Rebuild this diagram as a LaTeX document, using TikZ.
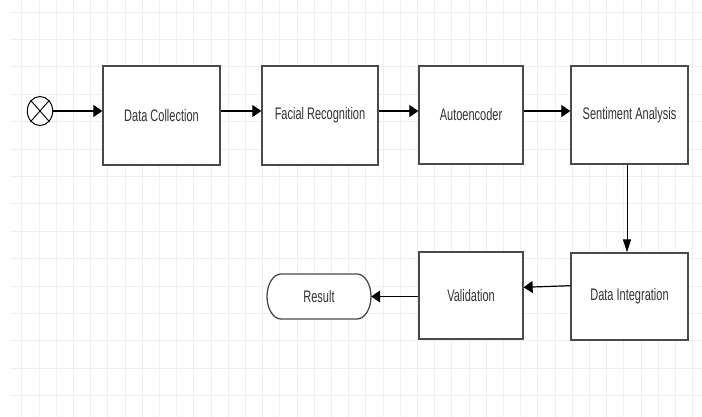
\documentclass[tikz,border=0pt]{standalone}
\usepackage{fontspec}
\setmainfont{Liberation Sans}
\usetikzlibrary{arrows.meta,shapes.geometric}
\newcommand{\vstretch}[1]{\scalebox{1}[1.52]{#1}}
\definecolor{gridc}{HTML}{EFEFEF}
\definecolor{boxc}{HTML}{4A4A4A}
\definecolor{txtc}{HTML}{333333}
\tikzset{
  stepbox/.style={draw=boxc, line width=1.3pt, fill=white, rectangle, inner sep=0pt,
    text=txtc, font=\fontsize{11}{13}\selectfont},
  harr/.style={draw=black, line width=1.2pt, -{Triangle[length=9pt,width=12pt]}},
  varr/.style={draw=black, line width=1pt, -{Triangle[length=13pt,width=8pt]}},
}
\begin{document}
\begin{tikzpicture}[x=1pt,y=-1pt]
\useasboundingbox (0,0) rectangle (702,417);
\fill[white] (0,0) rectangle (702,417);
% grid
\foreach \k in {0,...,39} {
  \draw[gridc, line width=0.8pt] ({21.7+17.2*\k},0) -- ({21.7+17.2*\k},417);
}
\foreach \k in {0,...,14} {
  \draw[gridc, line width=0.8pt] (10,{12+27.4*\k}) -- (702,{12+27.4*\k});
}
% start symbol
\node[draw=black, line width=1pt, ellipse, minimum width=25.4pt, minimum height=29pt, inner sep=0pt, fill=white] (start) at (40,111) {};
\draw[black, line width=0.9pt] (start.north west) -- (start.south east);
\draw[black, line width=0.9pt] (start.north east) -- (start.south west);
% boxes
\node[stepbox, minimum width=117pt, minimum height=99pt] (dc) at (161.5,115.5) {\vstretch{Data Collection}};
\node[stepbox, minimum width=116pt, minimum height=99pt] (fr) at (320,115.5) {\vstretch{Facial Recognition}};
\node[stepbox, minimum width=104pt, minimum height=98pt] (ae) at (471,115) {\vstretch{Autoencoder}};
\node[stepbox, minimum width=117pt, minimum height=98pt] (sa) at (629.5,115) {\vstretch{Sentiment Analysis}};
\node[stepbox, minimum width=117pt, minimum height=87pt] (di) at (629.5,296.5) {\vstretch{Data Integration}};
\node[stepbox, minimum width=104pt, minimum height=87pt] (val) at (471,295.5) {\vstretch{Validation}};
% result terminator (stadium with elliptic ends)
\draw[draw=boxc, line width=1.3pt, fill=white]
  (281,274) -- (357,274)
  .. controls (364.7,274) and (371,284.1) .. (371,296.5)
  .. controls (371,308.9) and (364.7,319) .. (357,319)
  -- (281,319)
  .. controls (273.3,319) and (267,308.9) .. (267,296.5)
  .. controls (267,284.1) and (273.3,274) .. (281,274) -- cycle;
\node[text=txtc, font=\fontsize{11}{13}\selectfont, inner sep=0pt, minimum width=104pt, minimum height=45pt] (res) at (319,296.5) {\vstretch{Result}};
% connectors
\draw[harr] (start.east) -- (start.east -| dc.west);
\draw[harr] (dc.east |- start.east) -- (fr.west |- start.east);
\draw[harr] (fr.east |- start.east) -- (ae.west |- start.east);
\draw[harr] (ae.east |- start.east) -- (sa.west |- start.east);
\draw[varr] ([xshift=-2.5pt]sa.south) -- ([xshift=-2.5pt]di.north);
\draw[harr] ([yshift=10.8pt]di.west) -- ([yshift=8.2pt]val.east);
\draw[harr] (val.west |- res.east) -- (res.east);
\end{tikzpicture}
\end{document}
